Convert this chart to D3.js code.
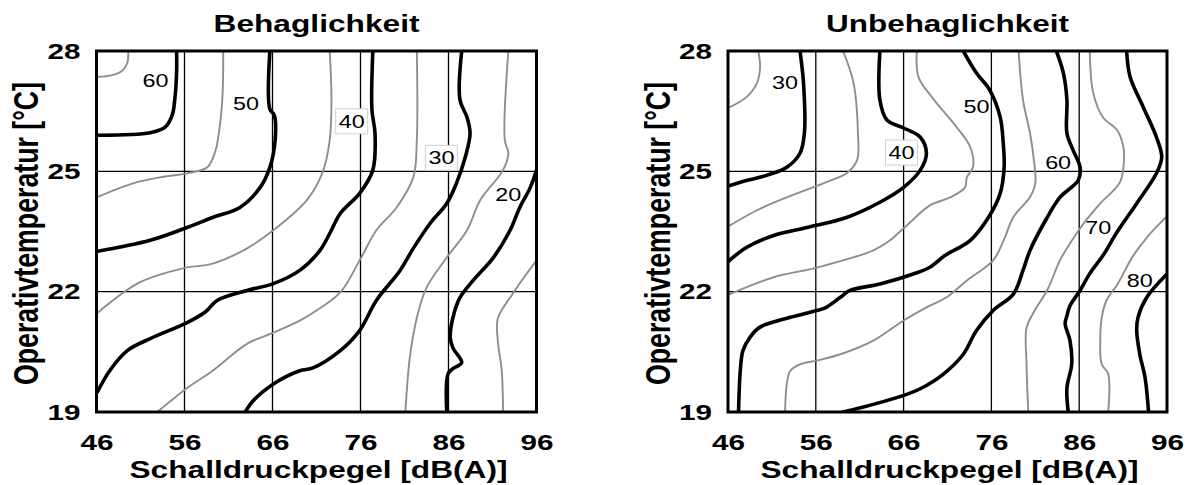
<!DOCTYPE html>
<html lang="de">
<head>
<meta charset="UTF-8" />
<title>Behaglichkeit / Unbehaglichkeit</title>
<script src="https://d3js.org/d3.v7.min.js"></script>
<style>
  body { margin: 0; background: #fff; }
  text { font-family: 'Liberation Sans', Arial, sans-serif; fill: #000; }
</style>
</head>
<body>
<svg width="1190" height="485"></svg>
<script>
// achsen
var xTicks = [46, 56, 66, 76, 86, 96]
var yTicks = [19, 22, 25, 28]

// Behaglichkeit: Isolinien [dB(A), °C]
var behagLevels = [65, 60, 55, 50, 45, 40, 35, 30, 25, 20, 15]
var behagLines = [
  [[46,27.35],[47.8,27.4],[48.9,27.5],[49.5,27.7],[49.6,28]],
  [[46,25.9],[52.1,25.96],[53.8,26.1],[54.6,26.4],[54.9,26.8],[55.1,27.45],[55.1,28]],
  [[46,24.35],[50.15,24.7],[53.2,24.85],[56.3,24.95],[58.6,25.1],[59.5,25.5],[59.8,25.8],[60.3,26.8],[60.4,28]],
  [[46,23.0],[52.1,23.28],[56.3,23.6],[59.2,23.85],[62.3,24.1],[64.6,24.6],[65.7,25.1],[66.3,25.78],[66.2,26.4],[65.7,26.55],[65.7,28]],
  [[46,21.45],[50.9,22.23],[55.8,22.58],[59.2,22.7],[62.7,23.03],[66.1,23.53],[69.9,24.28],[71.7,24.98],[72.5,25.78],[72.7,26.78],[72.5,28]],
  [[46.1,19.5],[47.5,20.03],[49.5,20.53],[52.1,20.83],[56.3,21.23],[58.4,21.5],[59.7,21.78],[63.1,22.03],[66.1,22.2],[69.1,22.53],[71.4,23.03],[72.5,23.45],[73.7,23.95],[75.9,24.45],[77.4,25.03],[77.65,25.95],[77.3,26.53],[77.4,28]],
  [[52.9,19],[56.3,19.6],[59.2,20.03],[63.1,20.7],[66.1,20.98],[69.1,21.28],[71,21.53],[73.7,21.98],[75.9,22.78],[77.8,23.53],[80.1,24.1],[82,24.85],[82.4,25.78],[82.4,28]],
  [[62.9,19],[63.8,19.28],[66.1,19.7],[69.1,20.03],[70.6,20.1],[73.7,20.53],[75.9,21.03],[77.8,21.78],[80.5,22.53],[82,23.08],[83.9,23.7],[85.8,24.2],[86.9,24.7],[87.9,25.35],[88.45,25.95],[88.1,26.35],[87.3,26.78],[87.5,28]],
  [[81.1,19],[81.6,20.35],[82.4,21.35],[83.5,22.1],[85.8,22.85],[88.1,23.53],[89.6,24.28],[92.2,25.03],[92.8,25.45],[92.4,25.78],[92.8,28]],
  [[85.8,19],[85.95,19.95],[86.5,20.08],[87.5,20.23],[86.5,20.6],[86.2,20.85],[86.5,21.35],[87.3,21.85],[88.8,22.28],[91.1,22.85],[93,23.53],[94.1,24.1],[95.3,24.6],[96,25.03]],
  [[92.2,19],[92.05,20.03],[91.6,20.78],[91.6,21.33],[93.3,21.95],[96,22.78]]
]
var behagLabels = [
  { text: '60', x: 52.7, y: 27.27, box: false },
  { text: '50', x: 63.0, y: 26.69, box: false },
  { text: '40', x: 75.0, y: 26.26, box: true },
  { text: '30', x: 85.2, y: 25.35, box: true },
  { text: '20', x: 92.8, y: 24.44, box: false }
]

// Unbehaglichkeit
var unbeLevels = [25, 30, 35, 40, 45, 50, 55, 60, 65, 70, 75, 80]
var unbeLines = [
  [[46,26.58],[48.1,26.85],[49.3,27.2],[49.65,27.6],[49.45,28]],
  [[46,24.63],[47.4,24.73],[50.4,24.9],[52.7,25.1],[54.2,25.45],[54.7,25.95],[54.6,27.2],[54.2,28]],
  [[46.2,23.65],[49.3,24.03],[51.9,24.28],[57.2,24.73],[59.5,24.95],[60.7,25.28],[60.8,25.95],[60.3,27.2],[59.1,28]],
  [[46,22.75],[48.1,23.1],[51.2,23.4],[55,23.6],[59.5,23.85],[63.3,24.23],[66,24.6],[67.9,25.03],[68.6,25.45],[67.9,25.85],[66,26.08],[64.1,26.28],[63.3,26.78],[63.3,28]],
  [[46.2,21.94],[51.2,22.36],[56.1,22.6],[62.55,23.03],[64.45,23.28],[66.35,23.65],[69,24.15],[71.3,24.35],[73,24.6],[73.2,24.85],[73.9,25.1],[73.6,25.6],[72.05,26.1],[69.4,26.8],[67.7,27.35],[67.5,28]],
  [[47.2,19],[47.4,20.03],[47.7,20.53],[48.5,20.86],[49.6,21.11],[53.1,21.36],[56.1,21.53],[57.2,21.61],[58.8,21.86],[59.9,22.03],[63.3,22.19],[67.1,22.44],[69,22.61],[70.7,22.9],[73.6,23.28],[75.8,23.9],[77,24.45],[77.45,25.1],[77.35,25.7],[77,26.35],[75.8,27.03],[74.3,27.45],[72.8,28]],
  [[52.5,19],[52.7,19.7],[53.1,20.03],[54.2,20.19],[56.1,20.28],[58.8,20.44],[62.55,20.78],[66,21.28],[68.6,21.61],[70.9,21.86],[73.2,22.28],[76.2,22.78],[77.4,23.28],[78.5,23.86],[80.4,24.36],[81,24.7],[80.8,25.35],[80.4,25.95],[79.6,26.78],[79.1,28]],
  [[59.1,19],[62.55,19.19],[66.35,19.44],[67.9,19.58],[70.5,19.94],[72.8,20.44],[74.3,21.03],[76.2,21.53],[78.5,21.94],[79.6,22.53],[80.4,23.03],[82.3,23.83],[83.8,24.35],[85.9,24.78],[86.1,25.1],[85.3,25.53],[84.6,25.95],[84.6,26.78],[84.2,27.45],[83.4,28]],
  [[80.2,19],[80,20.2],[80,21.1],[80.8,21.48],[82.45,22.08],[83.8,22.78],[84.95,23.2],[86.5,23.7],[88.4,24.2],[90.65,24.73],[91.1,25.28],[91,25.65],[90.3,26.03],[88.7,26.35],[87.6,26.95],[87.2,28]],
  [[84.75,19],[84.6,19.6],[85.15,20.2],[84.95,20.78],[84.4,21.2],[84.6,21.4],[84.95,21.65],[86.1,22.03],[87.2,22.45],[88.7,22.9],[90.3,23.48],[92.55,24.2],[94.8,24.95],[95.4,25.35],[94.8,25.85],[93.3,26.6],[91.8,27.35],[91.4,28]],
  [[89.3,19],[89.3,19.95],[88.55,20.2],[88.4,20.78],[88.55,21.33],[89.1,21.78],[90.4,22.2],[92.1,22.88],[93.7,23.35],[96,23.88]],
  [[93.9,19],[93.5,19.86],[92.9,20.44],[92.55,21.03],[92.7,21.36],[93.7,21.86],[96,22.44]]
]
var unbeLabels = [
  { text: '30', x: 52.5, y: 27.22, box: false },
  { text: '40', x: 65.76, y: 25.48, box: true },
  { text: '50', x: 74.3, y: 26.63, box: false },
  { text: '60', x: 83.6, y: 25.22, box: false },
  { text: '70', x: 88.17, y: 23.6, box: false },
  { text: '80', x: 92.9, y: 22.28, box: false }
]

var panels = [
  { id: 'l', title: 'Behaglichkeit', titleLen: 206, left: 96.5, right: 536.5, levels: behagLevels, lines: behagLines, labels: behagLabels },
  { id: 'r', title: 'Unbehaglichkeit', titleLen: 243, left: 728, right: 1167, levels: unbeLevels, lines: unbeLines, labels: unbeLabels }
]

var svg = d3.select('svg')
var plotTop = 51, plotBottom = 412

var y = d3.scaleLinear().domain([19, 28]).range([plotBottom, plotTop])

panels.forEach(function (p) {
  var x = d3.scaleLinear().domain([46, 96]).range([p.left, p.right])
  var cx = (p.left + p.right) / 2
  var g = svg.append('g')

  // clip
  svg.append('clipPath').attr('id', 'clip-' + p.id)
    .append('rect')
    .attr('x', p.left).attr('y', plotTop)
    .attr('width', p.right - p.left).attr('height', plotBottom - plotTop)

  // gitter
  g.append('g').selectAll('line')
    .data(xTicks.slice(1, -1)).enter().append('line')
    .attr('x1', function (d) { return x(d) }).attr('x2', function (d) { return x(d) })
    .attr('y1', plotTop).attr('y2', plotBottom)
    .attr('stroke', '#000').attr('stroke-width', 1.3)
  g.append('g').selectAll('line')
    .data(yTicks.slice(1, -1)).enter().append('line')
    .attr('x1', p.left).attr('x2', p.right)
    .attr('y1', function (d) { return y(d) }).attr('y2', function (d) { return y(d) })
    .attr('stroke', '#000').attr('stroke-width', 1.3)

  // isolinien
  var line = d3.line()
    .x(function (d) { return x(d[0]) })
    .y(function (d) { return y(d[1]) })
    .curve(d3.curveCatmullRom.alpha(0.5))

  var lg = g.append('g').attr('clip-path', 'url(#clip-' + p.id + ')')
  lg.selectAll('path')
    .data(p.lines).enter().append('path')
    .attr('d', line)
    .attr('fill', 'none')
    .attr('stroke-linejoin', 'round')
    .attr('stroke-linecap', 'round')
    .attr('stroke', function (d, i) { return p.levels[i] % 10 === 0 ? '#000' : '#8e8e8e' })
    .attr('stroke-width', function (d, i) { return p.levels[i] % 10 === 0 ? 3.6 : 1.9 })

  // beschriftung der linien
  var lab = g.append('g').selectAll('g').data(p.labels).enter().append('g')
    .attr('transform', function (d) { return 'translate(' + x(d.x) + ',' + y(d.y) + ')' })
  lab.filter(function (d) { return d.box }).append('rect')
    .attr('x', -16).attr('y', -12).attr('width', 32).attr('height', 25)
    .attr('fill', '#fff').attr('stroke', '#d0d0d0').attr('stroke-width', 1)
  lab.append('text')
    .attr('text-anchor', 'middle')
    .attr('dy', '0.36em')
    .attr('font-size', 19)
    .attr('textLength', 26)
    .attr('lengthAdjust', 'spacingAndGlyphs')
    .text(function (d) { return d.text })

  // rahmen
  g.append('rect')
    .attr('x', p.left).attr('y', plotTop)
    .attr('width', p.right - p.left).attr('height', plotBottom - plotTop)
    .attr('fill', 'none').attr('stroke', '#000').attr('stroke-width', 3)

  // achsen
  var ax = g.append('g').attr('transform', 'translate(0,' + plotBottom + ')')
    .call(d3.axisBottom(x).tickValues(xTicks).tickSize(0).tickPadding(22))
  var ay = g.append('g').attr('transform', 'translate(' + p.left + ',0)')
    .call(d3.axisLeft(y).tickValues(yTicks).tickSize(0).tickPadding(16))
  ;[ax, ay].forEach(function (a) {
    a.select('.domain').remove()
    a.selectAll('text')
      .attr('font-size', 22).attr('font-weight', 'bold')
      .attr('font-family', "'Liberation Sans', Arial, sans-serif")
      .attr('fill', '#000')
      .attr('textLength', 33).attr('lengthAdjust', 'spacingAndGlyphs')
  })

  // titel
  g.append('text')
    .attr('x', cx).attr('y', 31.5)
    .attr('text-anchor', 'middle')
    .attr('font-size', 23).attr('font-weight', 'bold')
    .attr('textLength', p.titleLen).attr('lengthAdjust', 'spacingAndGlyphs')
    .text(p.title)

  // x-beschriftung
  g.append('text')
    .attr('x', cx + 2).attr('y', 478)
    .attr('text-anchor', 'middle')
    .attr('font-size', 23).attr('font-weight', 'bold')
    .attr('textLength', 378).attr('lengthAdjust', 'spacingAndGlyphs')
    .text('Schalldruckpegel [dB(A)]')

  // y-beschriftung
  g.append('text')
    .attr('transform', 'translate(' + (p.left - 58.5) + ',233.5) rotate(-90) scale(1,1.3)')
    .attr('text-anchor', 'middle')
    .attr('font-size', 27).attr('font-weight', 'bold')
    .attr('textLength', 303).attr('lengthAdjust', 'spacingAndGlyphs')
    .text('Operativtemperatur [°C]')
})
</script>
</body>
</html>
